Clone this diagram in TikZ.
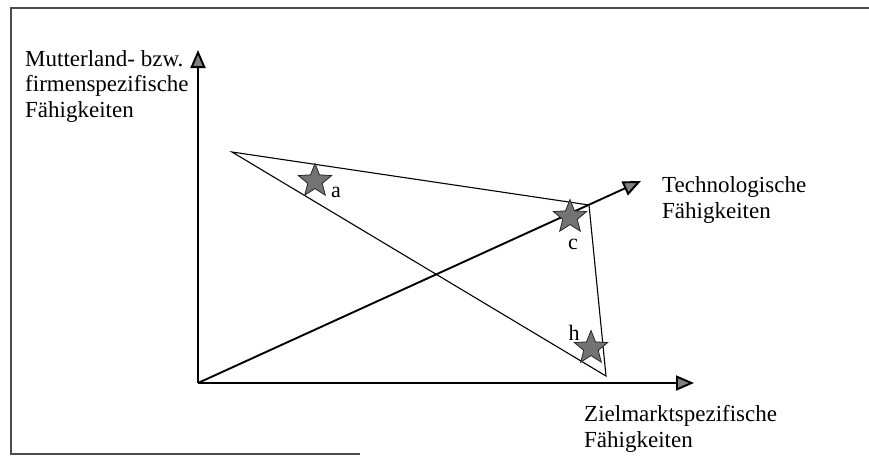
\documentclass[tikz,border=0pt]{standalone}
\usepackage{fontspec}
\setmainfont{Liberation Serif}
\usetikzlibrary{arrows.meta,shapes.geometric}
\begin{document}
\begin{tikzpicture}[x=1pt,y=-1pt,
  axis/.style={line width=1.9pt,-{Triangle[length=18pt,width=15pt,fill=black!50]}},
  tri/.style={line width=1.1pt},
  frameline/.style={line width=1.3pt,draw=black!70},
  starmark/.style={star,star points=5,star point ratio=2.3,minimum size=35pt,inner sep=0pt,fill=black!55,draw=black!85,line width=0.8pt},
  lbl/.style={font=\fontsize{23}{25.5}\selectfont,align=left,inner sep=0pt,anchor=base west},
  small/.style={font=\fontsize{22}{25}\selectfont,inner sep=0pt}]
\useasboundingbox (0,0) rectangle (869,456);
% frame
\coordinate (f1) at (869,8);
\coordinate (f2) at (11,8);
\coordinate (f3) at (11,454);
\coordinate (f4) at (360,454);
\draw[frameline] (f1) -- (f2) -- (f3) -- (f4);
% axes
\coordinate (o) at (198,383);
\coordinate (ytip) at (198,50);
\coordinate (xtip) at (694,383);
\coordinate (dtip) at (641,181);
\draw[axis] (o) -- (ytip);
\draw[axis] (o) -- (xtip);
\draw[axis] (o) -- (dtip);
% triangle
\coordinate (t1) at (232,152);
\coordinate (t2) at (589,205);
\coordinate (t3) at (606,376);
\draw[tri] (t1) -- (t2) -- (t3) -- cycle;
% stars
\node[starmark] (sa) at (315,181) {};
\node[starmark] (sc) at (570,217) {};
\node[starmark] (sh) at (591,348) {};
\node[small,anchor=base west] (la) at (331,197) {a};
\node[small,anchor=base] (lc) at (573,249) {c};
\node[small,anchor=base] (lh) at (574,340) {h};
% axis labels
\node[lbl] (ly) at (25,117) {Mutterland- bzw.\\firmenspezifische\\Fähigkeiten};
\node[lbl] (ld) at (662,218) {Technologische\\Fähigkeiten};
\node[lbl] (lx) at (584,447) {Zielmarktspezifische\\Fähigkeiten};
\end{tikzpicture}
\end{document}
